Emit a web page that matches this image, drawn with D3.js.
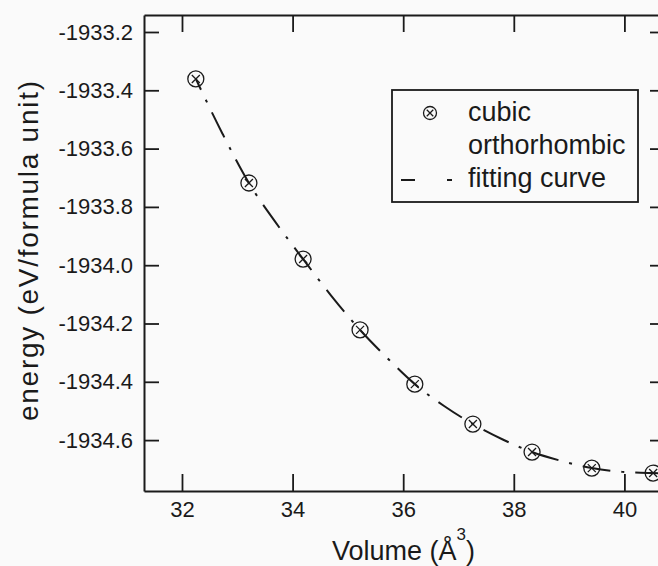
<!DOCTYPE html>
<html>
<head>
<meta charset="utf-8">
<script src="https://cdn.jsdelivr.net/npm/d3@7/dist/d3.min.js"></script>
<style>
  html, body { margin: 0; padding: 0; background: #fafafa; }
  svg { display: block; }
  text { font-family: "Liberation Sans", Arial, sans-serif; fill: #1a1a1a; }
</style>
</head>
<body>
<script>
// Calculated total energy of the cubic phase versus cell volume
const volumes  = [32.25, 33.21, 34.19, 35.22, 36.21, 37.26, 38.33, 39.41, 40.52];
const energies = [-1933.361, -1933.718, -1933.979, -1934.222, -1934.408, -1934.545, -1934.641, -1934.696, -1934.713];

// Equation-of-state fitting curve, sampled along its length
const fitVolumes  = [32.25, 32.73, 33.21, 33.70, 34.19, 34.70, 35.22, 35.72, 36.21, 36.74, 37.26, 37.80, 38.33, 38.87, 39.41, 39.96, 40.52, 40.80];
const fitEnergies = [-1933.361, -1933.548, -1933.718, -1933.855, -1933.979, -1934.105, -1934.222, -1934.320, -1934.408, -1934.483, -1934.545, -1934.598, -1934.641, -1934.672, -1934.696, -1934.709, -1934.713, -1934.714];

const xTicks = [32, 34, 36, 38, 40];
const yTicks = [-1933.2, -1933.4, -1933.6, -1933.8, -1934.0, -1934.2, -1934.4, -1934.6];
const legendLabels = ["cubic", "orthorhombic", "fitting curve"];

const W = 658, H = 566;
const m = { left: 144, right: 664, top: 15, bottom: 491 };

const svg = d3.select("body").append("svg").attr("width", W).attr("height", H);

const x = d3.scaleLinear().domain([31.313, 40.716]).range([m.left, m.right]);
const y = d3.scaleLinear().domain([-1934.7746, -1933.1417]).range([m.bottom, m.top]);

const ink = "#1a1a1a";

function styleAxis(g, fontSize) {
  g.select(".domain").attr("stroke", ink).attr("stroke-width", 2);
  g.selectAll(".tick line").attr("stroke", ink).attr("stroke-width", 1.8);
  g.selectAll(".tick text").attr("font-size", fontSize).attr("fill", ink)
    .attr("font-family", "Liberation Sans, Arial, sans-serif");
}

// bottom axis with inward ticks
svg.append("g").attr("transform", `translate(0,${m.bottom})`)
  .call(d3.axisBottom(x).tickValues(xTicks).tickFormat(d3.format("d"))
    .tickSizeInner(-17).tickSizeOuter(0).tickPadding(10))
  .call(g => styleAxis(g, 22));

// top axis, ticks only
svg.append("g").attr("transform", `translate(0,${m.top})`)
  .call(d3.axisTop(x).tickValues(xTicks).tickFormat("")
    .tickSizeInner(-17).tickSizeOuter(0))
  .call(g => styleAxis(g, 22));

// left axis
svg.append("g").attr("transform", `translate(${m.left},0)`)
  .call(d3.axisLeft(y).tickValues(yTicks).tickFormat(d3.format(".1f"))
    .tickSizeInner(-15).tickSizeOuter(0).tickPadding(11))
  .call(g => styleAxis(g, 22))
  .call(g => g.selectAll(".tick text").text(d => d3.format(".1f")(d).replace("\u2212", "-")));

// right axis, ticks only
svg.append("g").attr("transform", `translate(${m.right},0)`)
  .call(d3.axisRight(y).tickValues(yTicks).tickFormat("")
    .tickSizeInner(-14).tickSizeOuter(0))
  .call(g => styleAxis(g, 22));

// fitting curve
const fitData = fitVolumes.map((v, i) => [v, fitEnergies[i]]);
svg.append("path")
  .datum(fitData)
  .attr("fill", "none")
  .attr("stroke", ink)
  .attr("stroke-width", 2)
  .attr("stroke-dasharray", "28,11,3,11")
  .attr("stroke-dashoffset", 16)
  .attr("d", d3.line().x(d => x(d[0])).y(d => y(d[1])).curve(d3.curveMonotoneX));

// circled-cross markers
function crossCircle(g, r) {
  const k = r * 0.5;
  g.append("circle").attr("r", r).attr("fill", "none").attr("stroke", ink).attr("stroke-width", 1.3);
  g.append("path").attr("d", `M${-k},${-k}L${k},${k}M${-k},${k}L${k},${-k}`)
    .attr("stroke", ink).attr("stroke-width", 1.3);
}
const pts = svg.append("g").selectAll("g").data(volumes).join("g")
  .attr("transform", (d, i) => `translate(${x(d)},${y(energies[i])})`);
pts.each(function () { crossCircle(d3.select(this), 8); });

// legend
const lg = svg.append("g");
lg.append("rect").attr("x", 392).attr("y", 90).attr("width", 246).attr("height", 112)
  .attr("fill", "none").attr("stroke", ink).attr("stroke-width", 1.8);
const sym = lg.append("g").attr("transform", "translate(430,113)");
crossCircle(sym, 6.5);
lg.append("line").attr("x1", 401).attr("x2", 415).attr("y1", 180).attr("y2", 180)
  .attr("stroke", ink).attr("stroke-width", 2);
lg.append("line").attr("x1", 447).attr("x2", 452).attr("y1", 180).attr("y2", 180)
  .attr("stroke", ink).attr("stroke-width", 2);
const baselines = [121, 154, 187];
lg.selectAll("text.lab").data(legendLabels).join("text").attr("class", "lab")
  .attr("x", 468).attr("y", (d, i) => baselines[i])
  .attr("font-size", 27).text(d => d);

// axis titles
const xt = svg.append("text").attr("x", 332).attr("y", 560).attr("font-size", 27);
xt.append("tspan").text("Volume (Å");
xt.append("tspan").attr("font-size", 17).attr("dy", -20).text("3");
xt.append("tspan").attr("dy", 20).text(")");

svg.append("text")
  .attr("transform", "translate(38,251) rotate(-90)")
  .attr("text-anchor", "middle")
  .attr("font-size", 28)
  .attr("textLength", 340)
  .attr("lengthAdjust", "spacing")
  .attr("fill", "#2a2a2a")
  .text("energy (eV/formula unit)");
</script>
</body>
</html>
